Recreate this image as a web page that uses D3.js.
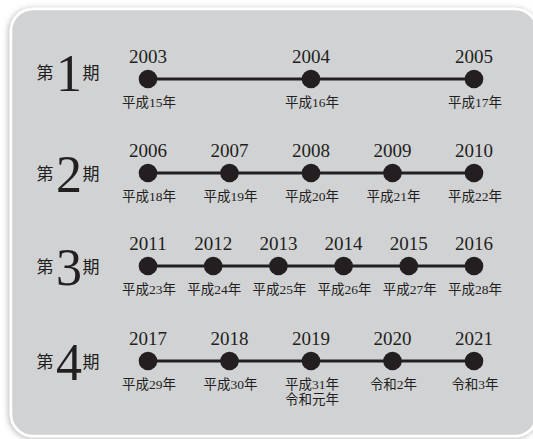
<!DOCTYPE html>
<html>
<head>
<meta charset="utf-8">
<script src="https://cdn.jsdelivr.net/npm/d3@7"></script>
<style>
  html, body { margin: 0; padding: 0; background: #ffffff; }
  svg { display: block; }
  text { font-family: "Liberation Serif", "Tinos", "Times New Roman", "DejaVu Serif", "Noto Sans CJK JP", serif; }
</style>
</head>
<body>
<svg id="chart" width="533" height="439"></svg>
<script>
// ---- data ----
const periodNumbers = ["1", "2", "3", "4"];
const years1 = [2003, 2004, 2005];
const years2 = [2006, 2007, 2008, 2009, 2010];
const years3 = [2011, 2012, 2013, 2014, 2015, 2016];
const years4 = [2017, 2018, 2019, 2020, 2021];
const era1 = ["平成15年", "平成16年", "平成17年"];
const era2 = ["平成18年", "平成19年", "平成20年", "平成21年", "平成22年"];
const era3 = ["平成23年", "平成24年", "平成25年", "平成26年", "平成27年", "平成28年"];
const era4 = ["平成29年", "平成30年", "平成31年|令和元年", "令和2年", "令和3年"];

const rows = [
  { num: periodNumbers[0], years: years1, era: era1 },
  { num: periodNumbers[1], years: years2, era: era2 },
  { num: periodNumbers[2], years: years3, era: era3 },
  { num: periodNumbers[3], years: years4, era: era4 }
];

// ---- layout ----
const rowY = [79, 173, 266, 361];
const labelOffset = [-6, 1, 1, 1];
const ink = "#231f20";

const svg = d3.select("#chart");
const defs = svg.append("defs");
const f = defs.append("filter").attr("id", "shadow")
  .attr("x", "-10%").attr("y", "-10%").attr("width", "120%").attr("height", "120%");
f.append("feDropShadow").attr("dx", -1).attr("dy", 1).attr("stdDeviation", 3)
  .attr("flood-color", "#000").attr("flood-opacity", 0.3);

svg.append("rect")
  .attr("x", 11).attr("y", 9).attr("width", 526).attr("height", 427)
  .attr("rx", 22).attr("ry", 22)
  .attr("fill", "#d1d2d4").attr("stroke", "#ffffff").attr("stroke-width", 2.5)
  .attr("filter", "url(#shadow)");

rows.forEach((row, i) => {
  const y = rowY[i];
  const x = d3.scalePoint().domain(row.years).range([148, 474]);
  const g = svg.append("g");

  // period label
  const ly = y + labelOffset[i];
  g.append("text").attr("x", 45).attr("y", ly + 6).attr("text-anchor", "middle")
    .attr("font-size", 17).attr("fill", ink).text("第");
  g.append("text").attr("x", 69).attr("y", ly + 18).attr("text-anchor", "middle")
    .attr("font-size", 52).attr("fill", ink).text(row.num);
  g.append("text").attr("x", 91).attr("y", ly + 6).attr("text-anchor", "middle")
    .attr("font-size", 17).attr("fill", ink).text("期");

  // line
  g.append("line")
    .attr("x1", x(row.years[0])).attr("x2", x(row.years[row.years.length - 1]))
    .attr("y1", y).attr("y2", y)
    .attr("stroke", ink).attr("stroke-width", 3);

  // dots
  g.selectAll("circle").data(row.years).join("circle")
    .attr("cx", d => x(d)).attr("cy", y).attr("r", 9.3).attr("fill", ink);

  // year labels
  g.selectAll("text.year").data(row.years).join("text").attr("class", "year")
    .attr("x", d => x(d)).attr("y", y - 16).attr("text-anchor", "middle")
    .attr("font-size", 19).attr("fill", ink)
    .text(d => d);

  // era labels
  g.selectAll("text.era").data(row.years).join("text").attr("class", "era")
    .attr("x", d => x(d) + 1).attr("y", y + 28).attr("text-anchor", "middle")
    .attr("font-size", 13.5).attr("fill", ink)
    .each(function(d, j) {
      const parts = row.era[j].split("|");
      const t = d3.select(this);
      parts.forEach((p, k) => {
        t.append("tspan").attr("x", x(d) + 1).attr("dy", k === 0 ? 0 : 15).text(p);
      });
    });
});
</script>
</body>
</html>
